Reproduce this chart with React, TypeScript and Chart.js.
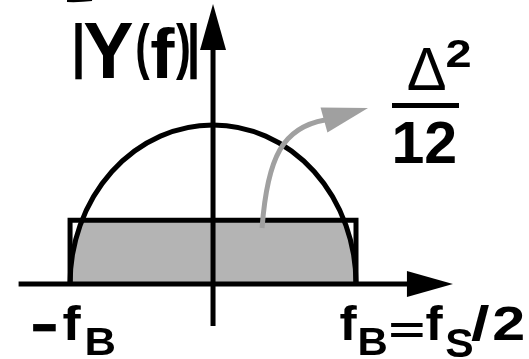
import { useEffect, useRef } from "react";
import { Chart, registerables } from "chart.js";

Chart.register(...registerables);

// Frequency is measured in units of the band edge f_B, magnitude in units of the spectrum peak.
const bandEdge = 1;
const spectrumPeak = 1;
const noiseFloor = 0.4; // flat quantisation-noise level Δ²/12

// Outline of the flat noise band (−f_B … f_B)
const noiseBoxX = [-bandEdge, -bandEdge, bandEdge, bandEdge];
const noiseBoxY = [0, noiseFloor, noiseFloor, 0];

// Axis extents: [tail, arrow tip]
const freqAxis = [-1.36, 1.678];
const magAxis = [-0.264, 1.761];

// Grey pointer from the shaded band to the Δ²/12 label:
// start, two control points, head base, head tip
const pointerX = [0.343, 0.38, 0.49, 0.776, 1.084];
const pointerY = [0.352, 0.8, 0.985, 1.031, 1.107];

// Visible range of both scales
const xRange = [-1.49, 2.21];
const yRange = [-0.472, 1.786];

// Text pieces: text, weight, ink box [left, top, right, bottom].
type Piece = { t: string; w: string; b: number[] };
const magnitudeLabel: Piece[] = [
  { t: "|", w: "bold", b: [75, 23, 82, 80] },
  { t: "Y", w: "bold", b: [84, 23, 133, 78] },
  { t: "(", w: "bold", b: [137, 23, 150, 80] },
  { t: "f", w: "bold", b: [151, 27, 175, 78] },
  { t: ")", w: "bold", b: [176, 23, 189, 80] },
  { t: "|", w: "bold", b: [190, 23, 197, 80] },
];
const noiseLabel: Piece[] = [
  { t: "Δ", w: "normal", b: [408, 48, 445, 90] },
  { t: "2", w: "bold", b: [447, 40, 470, 67] },
  { t: "12", w: "bold", b: [395, 122, 455, 163] },
];
const fractionBar = [392, 103, 459, 108];
const lowerEdgeLabel: Piece[] = [
  { t: "−", w: "bold", b: [33, 324, 56, 332] },
  { t: "f", w: "bold", b: [63, 305, 81, 340] },
  { t: "B", w: "bold", b: [87, 328, 114, 355] },
];
const upperEdgeLabel: Piece[] = [
  { t: "f", w: "bold", b: [340, 305, 357, 340] },
  { t: "B", w: "bold", b: [360, 328, 386, 355] },
  { t: "=", w: "bold", b: [391, 324, 423, 338] },
  { t: "f", w: "bold", b: [426, 305, 443, 340] },
  { t: "S", w: "bold", b: [446, 328, 472, 357] },
  { t: "/", w: "bold", b: [471, 305, 489, 341] },
  { t: "2", w: "bold", b: [494, 306, 523, 340] },
];

const FONT = '"Liberation Sans", Arial, sans-serif';
const INK = "#000000";
const SHADE = "#b4b4b4";
const POINTER = "#a0a0a0";
const LINE_W = 5;
const HEAD_LEN = 46;
const HEAD_HALF = 13;

// Draws a glyph run so that its ink fills the given box.
function fitGlyph(ctx: CanvasRenderingContext2D, p: Piece) {
  const [x0, y0, x1, y1] = p.b;
  ctx.save();
  ctx.font = `${p.w} 100px ${FONT}`;
  ctx.textAlign = "left";
  ctx.textBaseline = "alphabetic";
  const m = ctx.measureText(p.t);
  const w = m.actualBoundingBoxLeft + m.actualBoundingBoxRight;
  const h = m.actualBoundingBoxAscent + m.actualBoundingBoxDescent;
  ctx.translate(x0, y0);
  ctx.scale((x1 - x0) / w, (y1 - y0) / h);
  ctx.fillStyle = INK;
  ctx.fillText(p.t, m.actualBoundingBoxLeft, m.actualBoundingBoxAscent);
  ctx.restore();
}

function arrowHead(
  ctx: CanvasRenderingContext2D,
  bx: number,
  by: number,
  tx: number,
  ty: number,
  color: string
) {
  const dx = tx - bx;
  const dy = ty - by;
  const len = Math.hypot(dx, dy);
  const px = (-dy / len) * HEAD_HALF;
  const py = (dx / len) * HEAD_HALF;
  ctx.beginPath();
  ctx.moveTo(tx, ty);
  ctx.lineTo(bx + px, by + py);
  ctx.lineTo(bx - px, by - py);
  ctx.closePath();
  ctx.fillStyle = color;
  ctx.fill();
}

const diagramPlugin = {
  id: "spectrumDiagram",
  beforeDatasetsDraw(chart: any) {
    const { ctx, scales } = chart;
    const xs = scales.x;
    const ys = scales.y;
    const cx = xs.getPixelForValue(0);
    const cy = ys.getPixelForValue(0);
    const rx = xs.getPixelForValue(bandEdge) - cx;
    const ry = cy - ys.getPixelForValue(spectrumPeak);
    // shaded part of the noise band lying under the signal spectrum
    ctx.save();
    ctx.beginPath();
    ctx.ellipse(cx, cy, rx, ry, 0, Math.PI, 2 * Math.PI);
    ctx.closePath();
    ctx.clip();
    const left = xs.getPixelForValue(Math.min(...noiseBoxX));
    const right = xs.getPixelForValue(Math.max(...noiseBoxX));
    const top = ys.getPixelForValue(Math.max(...noiseBoxY));
    ctx.fillStyle = SHADE;
    ctx.fillRect(left, top, right - left, cy - top);
    ctx.restore();
  },
  afterDatasetsDraw(chart: any) {
    const { ctx, scales } = chart;
    const xs = scales.x;
    const ys = scales.y;
    const cx = xs.getPixelForValue(0);
    const cy = ys.getPixelForValue(0);
    const rx = xs.getPixelForValue(bandEdge) - cx;
    const ry = cy - ys.getPixelForValue(spectrumPeak);

    ctx.save();
    ctx.lineCap = "butt";
    ctx.strokeStyle = INK;
    ctx.lineWidth = LINE_W;

    // signal spectrum |Y(f)|
    ctx.beginPath();
    ctx.ellipse(cx, cy, rx, ry, 0, Math.PI, 2 * Math.PI);
    ctx.stroke();

    // frequency axis
    const fx0 = xs.getPixelForValue(freqAxis[0]);
    const fx1 = xs.getPixelForValue(freqAxis[1]);
    ctx.beginPath();
    ctx.moveTo(fx0, cy);
    ctx.lineTo(fx1 - HEAD_LEN + 2, cy);
    ctx.stroke();
    arrowHead(ctx, fx1 - HEAD_LEN, cy, fx1, cy, INK);

    // magnitude axis
    const my0 = ys.getPixelForValue(magAxis[0]);
    const my1 = ys.getPixelForValue(magAxis[1]);
    ctx.beginPath();
    ctx.moveTo(cx, my0);
    ctx.lineTo(cx, my1 + HEAD_LEN - 2);
    ctx.stroke();
    arrowHead(ctx, cx, my1 + HEAD_LEN, cx, my1, INK);

    // grey pointer to the noise-power label
    const P = pointerX.map((v, i) => [
      xs.getPixelForValue(v),
      ys.getPixelForValue(pointerY[i]),
    ]);
    ctx.strokeStyle = POINTER;
    ctx.beginPath();
    ctx.moveTo(P[0][0], P[0][1]);
    ctx.bezierCurveTo(P[1][0], P[1][1], P[2][0], P[2][1], P[3][0] + 1, P[3][1]);
    ctx.stroke();
    arrowHead(ctx, P[3][0], P[3][1], P[4][0], P[4][1], POINTER);

    // labels
    [...magnitudeLabel, ...noiseLabel, ...lowerEdgeLabel, ...upperEdgeLabel].forEach(
      (p) => fitGlyph(ctx, p)
    );
    ctx.fillStyle = INK;
    ctx.fillRect(
      fractionBar[0],
      fractionBar[1],
      fractionBar[2] - fractionBar[0],
      fractionBar[3] - fractionBar[1]
    );

    // fragment of a letter reaching in from above the frame
    ctx.strokeStyle = INK;
    ctx.lineWidth = 2;
    ctx.beginPath();
    ctx.moveTo(67, 1);
    ctx.quadraticCurveTo(80, 1.5, 92, 0);
    ctx.stroke();
    ctx.restore();
  },
};

export default function App() {
  const canvasRef = useRef<HTMLCanvasElement | null>(null);

  useEffect(() => {
    const canvas = canvasRef.current;
    if (!canvas) return;
    const chart = new Chart(canvas, {
      type: "scatter",
      data: {
        datasets: [
          {
            label: "noise band",
            data: noiseBoxX.map((x, i) => ({ x, y: noiseBoxY[i] })),
            showLine: true,
            borderColor: INK,
            borderWidth: LINE_W,
            borderJoinStyle: "miter",
            borderCapStyle: "butt",
            pointRadius: 0,
            tension: 0,
          } as any,
        ],
      },
      options: {
        animation: false,
        responsive: true,
        maintainAspectRatio: false,
        layout: { padding: 0 },
        events: [],
        scales: {
          x: { type: "linear", display: false, min: xRange[0], max: xRange[1] },
          y: { type: "linear", display: false, min: yRange[0], max: yRange[1] },
        },
        plugins: {
          legend: { display: false },
          tooltip: { enabled: false },
        },
      },
      plugins: [diagramPlugin],
    });
    return () => chart.destroy();
  }, []);

  return (
    <div
      style={{
        position: "absolute",
        left: 0,
        top: 0,
        width: 529,
        height: 359,
        background: "#ffffff",
      }}
    >
      <canvas ref={canvasRef} />
    </div>
  );
}
